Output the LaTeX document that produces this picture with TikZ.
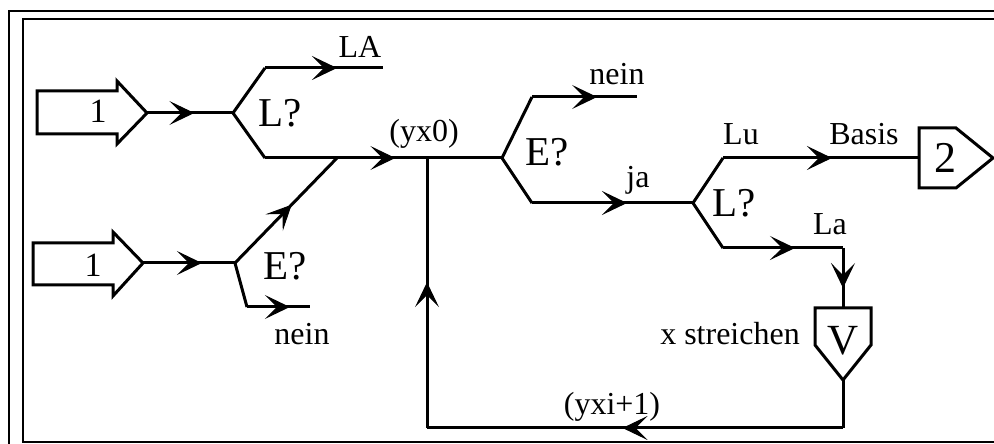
\documentclass[tikz,border=0pt]{standalone}
\usepackage{fontspec}
\setmainfont{Liberation Serif}
\usetikzlibrary{arrows.meta,decorations.markings}
\tikzset{
  conn/.style={line width=3bp, line join=miter},
  marr/.style={conn, postaction={decorate}, decoration={markings, mark=at position #1 with {\arrow[line width=1bp]{Stealth[length=25bp,width=24bp,inset=12bp]}}}},
  frame/.style={line width=2.6bp},
  shapebox/.style={line width=3bp, line join=miter},
  lbl/.style={inner sep=0pt, anchor=base, font=\fontsize{32bp}{32bp}\selectfont},
  big/.style={inner sep=0pt, anchor=base, font=\fontsize{41bp}{41bp}\selectfont},
}
\begin{document}
\begin{tikzpicture}[x=1bp,y=-1bp]
\useasboundingbox (0,0) rectangle (994,444);
\clip (0,0) rectangle (994,444);
% frames
\draw[frame] (9,11) rectangle (1010,470);
\draw[frame] (23,19) rectangle (1005,442);

% coordinates
\coordinate (in1) at (147,113);
\coordinate (b1) at (233,113);
\coordinate (k1) at (265,68);
\coordinate (la) at (383,68);
\coordinate (k2) at (265,158);
\coordinate (b3) at (502,158);
\coordinate (in2) at (143,263);
\coordinate (b2) at (235,263);
\coordinate (j1) at (337,158);
\coordinate (k3) at (247,307);
\coordinate (n1) at (310,307);
\coordinate (j3) at (427,158);
\coordinate (j2) at (427,428);
\coordinate (c2) at (843,428);
\coordinate (k4) at (532,97);
\coordinate (n2) at (637,97);
\coordinate (k5) at (532,203);
\coordinate (b4) at (693,203);
\coordinate (k6) at (723,158);
\coordinate (box2w) at (919,158);
\coordinate (k7) at (723,248);
\coordinate (c1) at (843,248);
\coordinate (vtop) at (843,308);
\coordinate (vbot) at (843,380);

% input arrows
\draw[shapebox] (37,91) -- (117,91) -- (117,81) -- (in1) -- (117,144) -- (117,134) -- (37,134) -- cycle;
\node[big, font=\fontsize{34bp}{34bp}\selectfont] (one1) at (98,123) {1};
\draw[shapebox] (33,243) -- (113,243) -- (113,232) -- (in2) -- (113,296) -- (113,285) -- (33,285) -- cycle;
\node[big, font=\fontsize{34bp}{34bp}\selectfont] (one2) at (93,277) {1};

% box 2
\draw[shapebox] (box2w) -- (919,128) -- (956,128) -- (993,158) -- (956,188) -- (919,188) -- cycle;
\node[big, font=\fontsize{44bp}{44bp}\selectfont] (two) at (945,173) {2};

% V box
\draw[shapebox] (vtop) -- (815,308) -- (815,345) -- (vbot) -- (871,345) -- (871,308) -- cycle;
\node[big, font=\fontsize{43bp}{43bp}\selectfont] (vv) at (843,355) {V};

% connectors
\draw[marr=0.55] (in1) -- (b1);
\draw[conn] (b1) -- (k1);
\draw[marr=0.61] (k1) -- (la);
\draw[conn] (b1) -- (k2);
\draw[marr=0.55] (k2) -- (b3);
\draw[marr=0.64] (in2) -- (b2);
\draw[marr=0.555] (b2) -- (j1);
\draw[conn] (b2) -- (k3);
\draw[marr=0.68] (k3) -- (n1);
\draw[conn] (b3) -- (k4);
\draw[marr=0.62] (k4) -- (n2);
\draw[conn] (b3) -- (k5);
\draw[marr=0.59] (k5) -- (b4);
\draw[conn] (b4) -- (k6);
\draw[marr=0.556] (k6) -- (box2w);
\draw[conn] (b4) -- (k7);
\draw[marr=0.6] (k7) -- (c1);
\draw[marr=0.667] (c1) -- (vtop);
\draw[conn] (vbot) -- (c2);
\draw[marr=0.53] (c2) -- (j2);
\draw[marr=0.54] (j2) -- (j3);

% labels
\node[lbl] (tLA) at (360,58) {LA};
\node[big] (tL1) at (280,127) {L?};
\node[big] (tE1) at (285,280) {E?};
\node[lbl] (tnein1) at (302,345) {nein};
\node[lbl] (tyx0) at (424,142) {(yx0)};
\node[lbl] (tnein2) at (617,85) {nein};
\node[big] (tE2) at (547,166) {E?};
\node[lbl] (tja) at (638,188) {ja};
\node[lbl] (tLu) at (741,145) {Lu};
\node[lbl] (tBasis) at (864,145) {Basis};
\node[big] (tL2) at (734,217) {L?};
\node[lbl] (tLa) at (830,235) {La};
\node[lbl] (txs) at (730,345) {x streichen};
\node[lbl] (tyxi) at (612,414) {(yxi+1)};
\end{tikzpicture}
\end{document}
